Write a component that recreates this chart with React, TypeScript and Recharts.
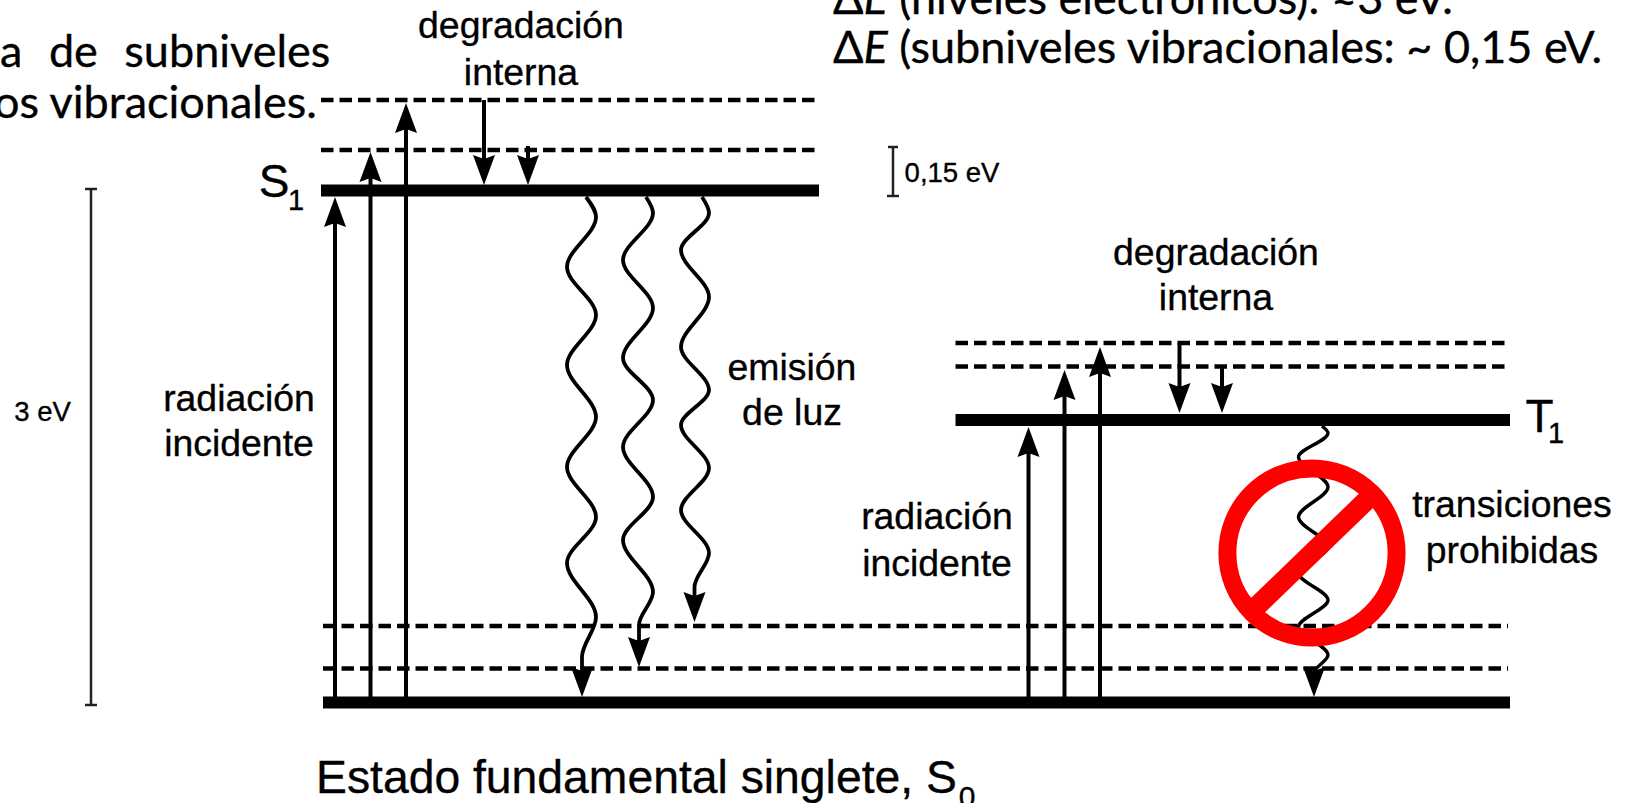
import React from "react";
import { ComposedChart, Line, Scatter, XAxis, YAxis, ReferenceDot } from "recharts";

type P = { x: number; y: number };
type L = P & { text: string };

const W = 1631;
const H = 803;

// Energy levels (diagram units)
const levelS1: P[] = [{ x: 321, y: 190.5 }, { x: 819, y: 190.5 }];
const levelT1: P[] = [{ x: 955.5, y: 420 }, { x: 1510, y: 420 }];
const levelS0: P[] = [{ x: 323, y: 702.5 }, { x: 1510, y: 702.5 }];
const subLevels: P[][] = [
  [{ x: 321, y: 100 }, { x: 819, y: 100 }],
  [{ x: 321, y: 150 }, { x: 819, y: 150 }],
  [{ x: 955.5, y: 343 }, { x: 1508, y: 343 }],
  [{ x: 955.5, y: 366.5 }, { x: 1508, y: 366.5 }],
  [{ x: 323, y: 626 }, { x: 1508, y: 626 }],
  [{ x: 323, y: 668.5 }, { x: 1508, y: 668.5 }],
];

// Energy brackets
const brackets: P[][] = [
  [{ x: 91, y: 189 }, { x: 91, y: 705 }],
  [{ x: 85, y: 189 }, { x: 97, y: 189 }],
  [{ x: 85, y: 705 }, { x: 97, y: 705 }],
  [{ x: 893, y: 147 }, { x: 893, y: 196 }],
  [{ x: 888, y: 147 }, { x: 898, y: 147 }],
  [{ x: 887, y: 196 }, { x: 899, y: 196 }],
];

// Straight transitions
const arrowsUp: P[][] = [
  [{ x: 335, y: 700 }, { x: 335, y: 215 }],
  [{ x: 370.5, y: 700 }, { x: 370.5, y: 170 }],
  [{ x: 406, y: 700 }, { x: 406, y: 120 }],
  [{ x: 1028.5, y: 700 }, { x: 1028.5, y: 445 }],
  [{ x: 1064.5, y: 700 }, { x: 1064.5, y: 388 }],
  [{ x: 1100, y: 700 }, { x: 1100, y: 365 }],
];
const arrowsDown: P[][] = [
  [{ x: 484, y: 100 }, { x: 484, y: 170 }],
  [{ x: 528, y: 146 }, { x: 528, y: 170 }],
  [{ x: 1179.5, y: 343 }, { x: 1179.5, y: 398 }],
  [{ x: 1222, y: 366 }, { x: 1222, y: 398 }],
];
const upTips: P[] = [
  { x: 335, y: 197 }, { x: 370.5, y: 152 }, { x: 406, y: 103 },
  { x: 1028.5, y: 427 }, { x: 1064.5, y: 370 }, { x: 1100, y: 347 },
];
const downTips: P[] = [
  { x: 484, y: 185 }, { x: 528, y: 185 }, { x: 1179.5, y: 413 }, { x: 1222, y: 413 },
  { x: 582, y: 697 }, { x: 639, y: 667 }, { x: 694.5, y: 622 }, { x: 1314, y: 697 },
];

// Wavy transitions
const waveA: P[] = [
  { x: 586, y: 197 }, { x: 596, y: 217 }, { x: 567, y: 267 }, { x: 596, y: 315 }, { x: 567, y: 365 },
  { x: 596, y: 417 }, { x: 567, y: 467 }, { x: 596, y: 517 }, { x: 567, y: 563 }, { x: 596, y: 617 },
  { x: 582, y: 657 }, { x: 582, y: 685 },
];
const waveB: P[] = [
  { x: 646, y: 197 }, { x: 653, y: 213 }, { x: 623, y: 260 }, { x: 653, y: 308 }, { x: 623, y: 358 },
  { x: 653, y: 400 }, { x: 623, y: 447 }, { x: 653, y: 497 }, { x: 623, y: 540 }, { x: 653, y: 592 },
  { x: 639, y: 625 }, { x: 639, y: 655 },
];
const waveC: P[] = [
  { x: 702, y: 197 }, { x: 709, y: 213 }, { x: 681, y: 250 }, { x: 709, y: 297 }, { x: 681, y: 347 },
  { x: 709, y: 390 }, { x: 681, y: 425 }, { x: 709, y: 468 }, { x: 681, y: 510 }, { x: 709, y: 553 },
  { x: 694.5, y: 587 }, { x: 694.5, y: 610 },
];
const waveT: P[] = [
  { x: 1322, y: 426 }, { x: 1328, y: 433 }, { x: 1298.5, y: 457 }, { x: 1328, y: 487 }, { x: 1298.5, y: 517 },
  { x: 1328, y: 547 }, { x: 1298.5, y: 573 }, { x: 1328, y: 600 }, { x: 1298.5, y: 627 }, { x: 1328, y: 655 },
  { x: 1314, y: 673 }, { x: 1314, y: 685 },
];

// Prohibition sign
const signCentre: P = { x: 1312, y: 553 };
const signBar: P[] = [{ x: 1254, y: 609 }, { x: 1372, y: 495 }];

// Text
const bodyLabels: L[] = [
  { x: 521, y: 38, text: "degradación" },
  { x: 521, y: 85, text: "interna" },
  { x: 239, y: 411, text: "radiación" },
  { x: 239, y: 456, text: "incidente" },
  { x: 792, y: 380, text: "emisión" },
  { x: 792, y: 425, text: "de luz" },
  { x: 1216, y: 265, text: "degradación" },
  { x: 1216, y: 310, text: "interna" },
  { x: 937, y: 529, text: "radiación" },
  { x: 937, y: 575.5, text: "incidente" },
  { x: 1512, y: 517, text: "transiciones" },
  { x: 1512, y: 563, text: "prohibidas" },
];
const smallLabels: L[] = [
  { x: 42.5, y: 421, text: "3 eV" },
  { x: 952, y: 182, text: "0,15 eV" },
];
const stateLabels: L[] = [
  { x: 274, y: 197, text: "S" },
  { x: 1539.5, y: 432, text: "T" },
];
const stateSubs: L[] = [
  { x: 296, y: 210, text: "1" },
  { x: 1556, y: 443, text: "1" },
];
const captionMain: L[] = [{ x: 316, y: 792.5, text: "Estado fundamental singlete, S" }];
const captionSub: L[] = [{ x: 967, y: 803, text: "0" }];
const noteLeftTop: L[] = [{ x: 0, y: 67, text: "a de subniveles" }];
const noteLeftBottom: L[] = [{ x: 0, y: 118, text: "os vibracionales." }];
const noteRight: L[] = [
  { x: 833, y: 14, text: "ΔE (niveles electrónicos): ≈3 eV." },
  { x: 833, y: 63, text: "ΔE (subniveles vibracionales: ~ 0,15 eV." },
];

const ARIAL = "'Liberation Sans', Arial, sans-serif";
const NOTE = "Lato, 'Noto Sans', sans-serif";

const textShape =
  (style: React.SVGProps<SVGTextElement>) =>
  (props: any) => {
    const t: string = props.payload.text;
    const delta = t.startsWith("ΔE");
    return (
      <text x={props.cx} y={props.cy} fill="#000" stroke="#000" strokeWidth={0.35} {...style}>
        {delta ? (
          <>
            Δ<tspan fontStyle="italic">E</tspan>
            {t.slice(2)}
          </>
        ) : (
          t
        )}
      </text>
    );
  };

const headUp = (p: any) => (
  <path d={`M${p.cx},${p.cy}L${p.cx + 11},${p.cy + 30}L${p.cx},${p.cy + 26}L${p.cx - 11},${p.cy + 30}Z`} fill="#000" />
);
const headDown = (p: any) => (
  <path d={`M${p.cx},${p.cy}L${p.cx + 11},${p.cy - 30}L${p.cx},${p.cy - 26}L${p.cx - 11},${p.cy - 30}Z`} fill="#000" />
);

const line = (data: P[], key: string, stroke: string, width: number, extra: any = {}) => (
  <Line
    key={key}
    data={data}
    dataKey="y"
    stroke={stroke}
    strokeWidth={width}
    dot={false}
    activeDot={false}
    legendType="none"
    isAnimationActive={false}
    {...extra}
  />
);

const labels = (data: L[], key: string, style: React.SVGProps<SVGTextElement>) => (
  <Scatter key={key} data={data} dataKey="y" isAnimationActive={false} shape={textShape(style)} />
);

export default function App() {
  return (
    <div style={{ position: "absolute", left: 0, top: 0, width: W, height: H, overflow: "hidden", background: "#fff" }}>
      <ComposedChart width={W} height={H} margin={{ top: 0, right: 0, bottom: 0, left: 0 }}>
        <XAxis type="number" dataKey="x" domain={[0, W]} hide />
        <YAxis type="number" dataKey="y" domain={[0, H]} reversed hide />

        {brackets.map((d, i) => line(d, `br${i}`, "#222", 2.5))}
        {subLevels.map((d, i) => line(d, `sub${i}`, "#000", 4.5, { strokeDasharray: "12.5 6" }))}
        {arrowsUp.map((d, i) => line(d, `up${i}`, "#000", 4))}
        {arrowsDown.map((d, i) => line(d, `dn${i}`, "#000", 4))}
        {line(levelS1, "s1", "#000", 12)}
        {line(levelT1, "t1", "#000", 12)}
        {line(levelS0, "s0", "#000", 12)}
        {line(waveA, "wa", "#000", 3.8, { type: "monotoneY" })}
        {line(waveB, "wb", "#000", 3.8, { type: "monotoneY" })}
        {line(waveC, "wc", "#000", 3.8, { type: "monotoneY" })}
        {line(waveT, "wt", "#000", 3.4, { type: "monotoneY" })}
        <Scatter data={upTips} dataKey="y" isAnimationActive={false} shape={headUp} />
        <Scatter data={downTips} dataKey="y" isAnimationActive={false} shape={headDown} />

        <ReferenceDot
          x={signCentre.x}
          y={signCentre.y}
          r={84.6}
          fill="none"
          stroke="#ff0000"
          strokeWidth={18}
          ifOverflow="visible"
        />
        {line(signBar, "bar", "#ff0000", 20)}

        {labels(bodyLabels, "body", { fontFamily: ARIAL, fontSize: 37.4, textAnchor: "middle" })}
        {labels(smallLabels, "small", { fontFamily: ARIAL, fontSize: 27.5, textAnchor: "middle" })}
        {labels(stateLabels, "state", { fontFamily: ARIAL, fontSize: 46, textAnchor: "middle" })}
        {labels(stateSubs, "stateSub", { fontFamily: ARIAL, fontSize: 29, textAnchor: "middle" })}
        {labels(captionMain, "cap", { fontFamily: ARIAL, fontSize: 46.3 })}
        {labels(captionSub, "capSub", { fontFamily: ARIAL, fontSize: 30, textAnchor: "middle", dy: 4 })}
        {labels(noteLeftTop, "nlt", { fontFamily: NOTE, fontSize: 45, wordSpacing: 15 })}
        {labels(noteLeftBottom, "nlb", { fontFamily: NOTE, fontSize: 45, dx: -6 })}
        {labels(noteRight, "nr", { fontFamily: NOTE, fontSize: 45 })}
      </ComposedChart>
    </div>
  );
}
